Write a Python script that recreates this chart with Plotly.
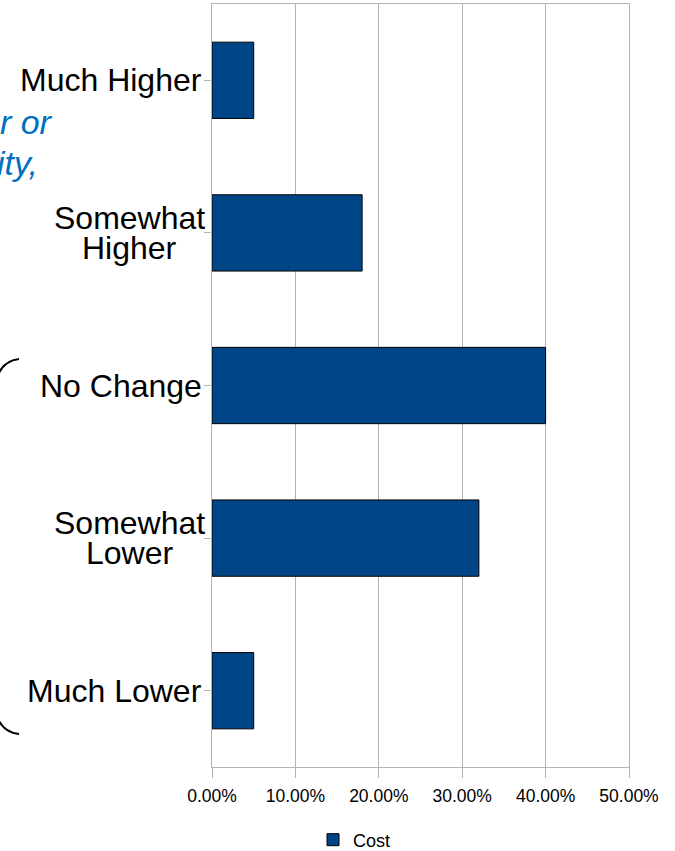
import plotly.graph_objects as go

categories = ["Much Higher", "Somewhat\nHigher", "No Change", "Somewhat\nLower", "Much Lower"]
cost = [0.05, 0.18, 0.40, 0.32, 0.05]
x_ticks = [0.0, 0.1, 0.2, 0.3, 0.4, 0.5]
series_name = "Cost"
side_fragments = ["er or", "ity,"]

W, H = 675, 851
L, R, T, B = 212, 46, 4, 84
PW, PH = W - L - R, H - T - B

def px(x):
    return (x - L) / PW

def py(y):
    return (H - B - y) / PH

font_family = "Liberation Sans, Arial, sans-serif"
LABEL_SIZE = 32

fig = go.Figure()
fig.add_trace(go.Bar(
    y=categories, x=cost, orientation="h", name=series_name,
    marker=dict(color="#004586", line=dict(color="#000000", width=1)),
    width=0.5, showlegend=True,
))

annotations = []
for cat in categories:
    lines = cat.split("\n")
    n = len(lines)
    for i, ln in enumerate(lines):
        if n == 1:
            ann = dict(x=0, xref="paper", xanchor="right", xshift=-8)
        else:
            ann = dict(x=px(129.5), xref="paper", xanchor="center")
        ann.update(
            y=cat, yref="y", text=ln, showarrow=False, yanchor="middle",
            yshift=((n - 1) / 2 - i) * 30,
            font=dict(family=font_family, size=LABEL_SIZE, color="#000000"),
        )
        annotations.append(ann)

frag_pos = [(-21, 122), (-5, 163)]
for txt, (xx, yy) in zip(side_fragments, frag_pos):
    annotations.append(dict(
        x=px(xx), xref="paper", y=py(yy), yref="paper", text=txt, showarrow=False,
        xanchor="left", yanchor="middle",
        font=dict(family=font_family, size=34, color="#0070c0", style="italic"),
    ))

brace = (f"M {px(19)},{py(359)} Q {px(-2)},{py(361)} {px(-6)},{py(390)} "
         f"L {px(-6)},{py(705)} Q {px(-2)},{py(732)} {px(19)},{py(734)}")

fig.update_layout(
    width=W, height=H,
    margin=dict(l=L, r=R, t=T, b=B, pad=0, autoexpand=False),
    paper_bgcolor="white", plot_bgcolor="white",
    font=dict(family=font_family, color="#000000"),
    bargap=0.5,
    xaxis=dict(
        range=[0, 0.5], tickvals=x_ticks, tickformat=".2%",
        showgrid=True, gridcolor="#b3b3b3", gridwidth=1,
        showline=True, linecolor="#b3b3b3", linewidth=1, mirror=True,
        ticks="outside", ticklen=10, tickcolor="#b3b3b3",
        ticklabelstandoff=3, automargin=False,
        tickfont=dict(size=17.5, color="#000000"), zeroline=False,
    ),
    yaxis=dict(
        autorange="reversed", showticklabels=False, automargin=False,
        showline=True, linecolor="#b3b3b3", linewidth=1, mirror=True,
        ticks="outside", ticklen=7, tickcolor="#b3b3b3",
        showgrid=False,
    ),
    legend=dict(
        orientation="h", xref="container", yref="container",
        x=313 / W, xanchor="left", y=(H - 840) / H, yanchor="middle",
        font=dict(size=18, color="#000000"),
    ),
    annotations=annotations,
    shapes=[dict(type="path", path=brace, xref="paper", yref="paper",
                 line=dict(color="#000000", width=2))],
)

fig.write_html("out.html")
